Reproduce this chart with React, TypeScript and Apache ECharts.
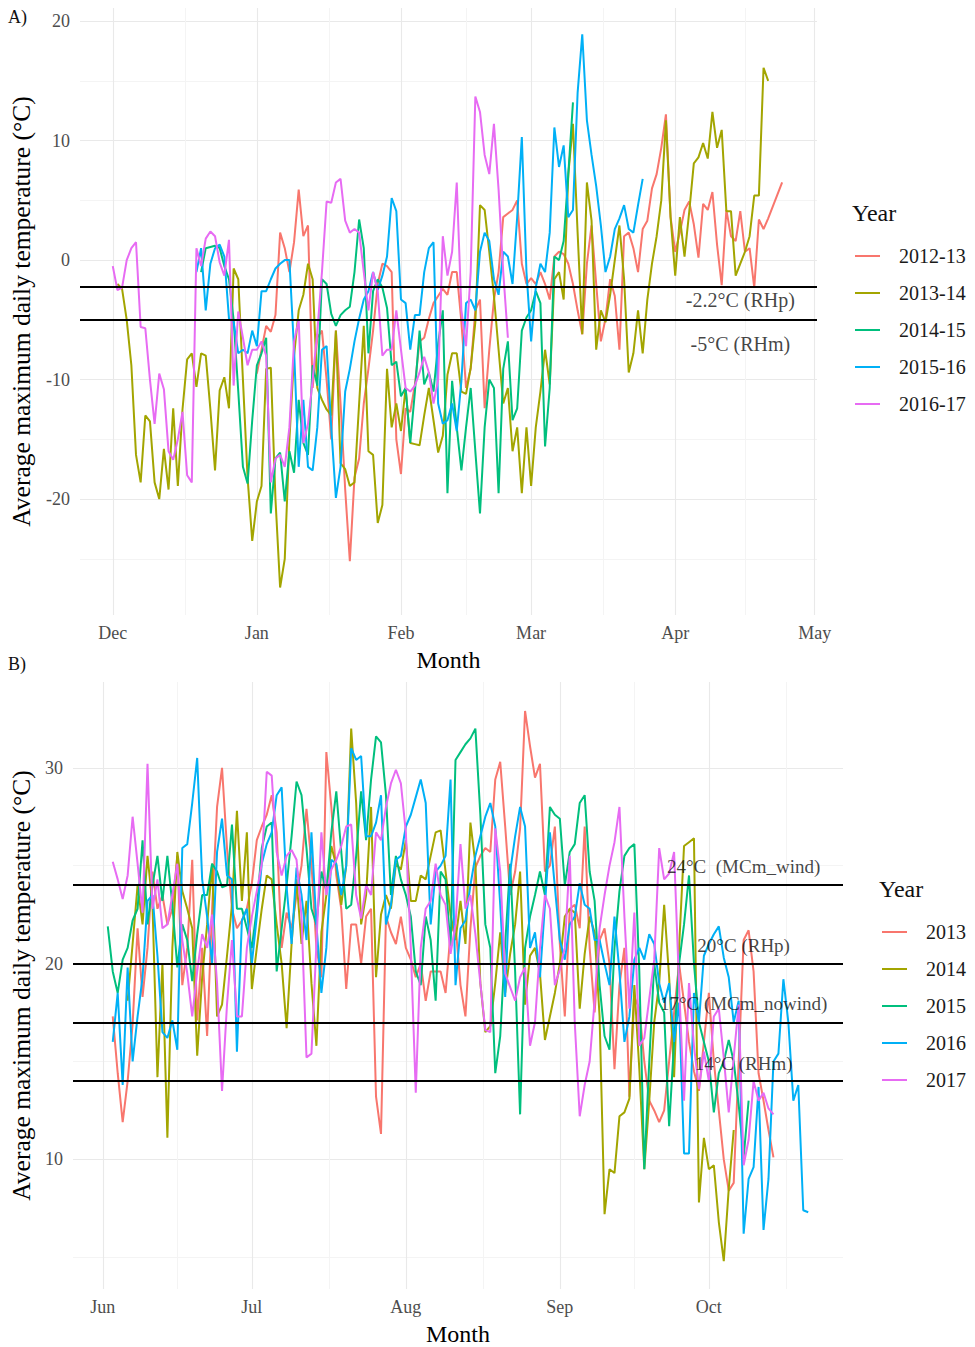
import React, { useEffect, useRef } from "react";
import * as echarts from "echarts";

// ---------- Panel A (winter, days counted from 1 December) ----------
const namesA = ["2012-13", "2013-14", "2014-15", "2015-16", "2016-17"];
const monthTicksA = [0, 31, 62, 90, 121, 151];
const monthLabelsA = ["Dec", "Jan", "Feb", "Mar", "Apr", "May"];
const minorXA = [15.5, 46.5, 76, 105.5, 136];
const yTicksA = [-20, -10, 0, 10, 20];
const minorYA = [-25, -15, -5, 5, 15];
const thresholdsA = [-2.2, -5];
const thresholdTextA = ["-2.2°C (RHp)", "-5°C (RHm)"];

const start2012_13 = 31;
const t2012_13 = [
  -9.5, -7.5, -5.5, -6.0, -4.6, 2.3, 1.0, -1.0, 1.5, 5.9,
  2.0, 2.9, -10.7, -6.5, -5.9, -10.0, -15.0, -5.9, -12.0, -19.2,
  -25.2, -18.2, -16.6, -12.0, -9.1, -5.9, -2.0, -0.3, -0.5, -1.0,
  -15.0, -17.9, -12.4, -12.7, -10.4, -6.8, -6.5, -4.9, -3.6, -3.0,
  -2.4, -2.9, -1.0, -1.0, -5.2, -10.7, -9.1, -4.2, -3.3, -12.4,
  -7.5, -3.3, -1.0, 3.6, 3.9, 4.2, 5.0, -0.3, -2.0, -1.5,
  -2.0, -1.0, -2.0, -3.3, 0.3, 0.7, 0.5, -0.3, -2.0, -4.2,
  -6.2, -0.3, 2.9, -2.0, -6.8, -4.9, -1.6, -3.0, -7.5, 2.0,
  2.3, 1.0, -1.0, 2.6, 3.3, 6.0, 7.2, 9.4, 12.2, 3.6,
  0.7, 2.3, 4.2, 4.9, 3.0, 0.2, 4.7, 4.2, 5.7, 1.3,
  -2.1, 4.2, 2.0, 1.6, 4.1, 0.7, 1.0, -2.3, 3.4, 2.6,
  3.5, 4.5, 5.5, 6.5,
];

const start2013_14 = 1;
const t2013_14 = [
  -2.0, -2.4, -5.0, -8.8, -16.3, -18.6, -13.0, -13.5, -18.6, -20.0,
  -15.8, -19.2, -12.4, -18.9, -12.5, -8.3, -7.8, -10.6, -7.8, -8.0,
  -12.5, -17.6, -10.9, -9.8, -12.4, -0.7, -1.6, -10.0, -18.2, -23.5,
  -20.2, -18.9, -9.1, -9.0, -20.0, -27.4, -25.0, -15.0, -8.0, -4.2,
  -2.9, -0.3, -1.6, -10.7, -11.7, -12.5, -13.0, -5.9, -17.0, -17.5,
  -18.9, -18.6, -12.0, -5.5, -16.0, -16.3, -22.0, -20.5, -9.1, -14.0,
  -12.0, -14.3, -10.7, -15.3, -15.4, -15.5, -13.0, -10.7, -13.4, -16.1,
  -14.7, -9.6, -7.8, -7.8, -11.0, -11.2, -9.0, -5.2, 4.6, 4.2,
  0.7, -3.0, -7.5, -12.0, -10.7, -16.0, -14.0, -19.5, -14.0, -18.9,
  -14.0, -11.0, -7.5, -10.4, -1.6, -1.0, -3.3, 7.2, 11.4, 2.3,
  -6.2, 6.5, 3.3, -7.5, -4.2, -5.2, -2.9, 0.0, 2.9, -1.6,
  -9.4, -7.8, -4.2, -7.8, -3.3, -0.3, 2.0, 5.0, 11.7, 3.6,
  -1.3, 3.6, 0.3, 4.0, 8.1, 8.6, 9.8, 8.5, 12.4, 9.4,
  10.9, 4.1, 4.1, -1.3, -0.3, 0.7, 2.0, 5.4, 5.4, 16.1,
  15.0,
];

const start2014_15 = 19;
const t2014_15 = [
  -1.0, 1.0, 1.1, 1.2, 1.0, -0.5, -1.6, -5.0, -11.0, -17.3,
  -18.7, -13.4, -8.8, -7.8, -6.5, -21.2, -16.6, -16.1, -20.2, -16.0,
  -17.8, -11.7, -15.3, -16.3, -8.8, -10.5, -1.6, -2.0, -4.5, -5.5,
  -4.6, -4.2, -3.9, -1.0, 3.4, 1.0, -7.8, -2.6, -1.6, -2.3,
  -4.0, -8.8, -8.5, -11.4, -10.7, -15.3, -11.0, -5.9, -10.4, -9.4,
  -11.0, -7.0, -4.2, -19.5, -10.1, -14.0, -17.6, -14.0, -10.7, -16.0,
  -21.2, -14.0, -10.0, -10.7, -19.5, -9.1, -6.8, -13.4, -12.4, -5.9,
  -4.8, -4.2, -2.6, -3.6, -15.6, -10.7, 0.3, 0.0, 1.6, 7.2,
  13.2,
];

const start2015_16 = 18;
const t2015_16 = [
  -1.0, 1.0, -4.2, -0.3, 1.0, 1.3, 0.3, -4.9, -5.2, -7.8,
  -7.5, -7.8, -5.9, -7.2, -2.6, -2.6, -1.6, -0.7, -0.3, 0.0,
  0.0, -7.5, -17.3, -11.7, -17.3, -17.6, -14.0, -7.5, -7.2, -14.0,
  -19.9, -17.3, -11.0, -9.1, -6.8, -4.9, -3.3, -2.6, -1.0, -2.5,
  -1.3, 0.3, 5.2, 4.1, -3.3, -3.6, -7.5, -4.6, -4.6, -1.0,
  1.0, 1.5, -12.0, -13.7, -13.4, -12.0, -14.3, -10.1, -3.6, -3.3,
  -4.2, 0.7, 2.3, 1.6, -1.6, -2.9, 0.7, 0.3, -2.0, 3.6,
  10.3, -1.0, -6.8, -2.3, -0.3, -1.0, 2.3, 11.1, 7.8, 9.6,
  3.6, 4.2, 14.0, 18.9, 11.7, 8.8, 6.2, 2.9, -1.0, 0.3,
  2.6, 3.5, 4.6, 2.6, 2.3, 4.6, 6.8,
];

const start2016_17 = 0;
const t2016_17 = [
  -0.5, -2.5, -2.3, 0.0, 1.0, 1.5, -5.6, -5.7, -10.0, -13.7,
  -9.5, -10.8, -16.0, -16.7, -15.0, -12.7, -18.0, -18.6, 1.0, -0.5,
  1.8, 2.4, 2.0, -0.2, -1.3, 1.7, -10.5, -4.3, -6.5, -8.8,
  -7.5, -7.5, -6.8, -8.0, -18.6, -16.6, -16.3, -17.3, -14.0, -6.8,
  -5.0, -15.3, -13.7, -10.0, -6.0, -1.0, 4.9, 4.8, 6.5, 6.8,
  3.3, 2.3, 2.6, 2.3, -1.0, -4.2, -1.0, -2.6, -8.0, -7.5,
  -7.5, -4.2, -7.5, -10.7, -11.0, -10.5, -9.4, -8.1, -9.4, -12.0,
  -10.0, 2.0, -1.3, 0.7, 6.5, -4.2, -7.2, -1.0, 13.7, 12.4,
  8.8, 7.2, 11.4, 5.9, -1.0, -6.5,
];

// ---------- Panel B (summer, days counted from 1 June) ----------
const namesB = ["2013", "2014", "2015", "2016", "2017"];
const monthTicksB = [0, 30, 61, 92, 122];
const monthLabelsB = ["Jun", "Jul", "Aug", "Sep", "Oct"];
const minorXB = [15, 45.5, 76.5, 107, 137.5];
const yTicksB = [10, 20, 30];
const minorYB = [5, 15, 25];
const thresholdsB = [24, 20, 17, 14];
const thresholdTextB = ["24°C  (MCm_wind)", "20°C (RHp)", "17°C (MCm_nowind)", "14°C (RHm)"];

const start2013 = 2;
const t2013 = [
  17.3, 14.4, 11.9, 14.0, 16.9, 21.8, 18.3, 20.8, 24.7, 22.8,
  23.5, 22.0, 22.8, 25.5, 18.9, 20.8, 25.3, 17.1, 20.8, 16.3,
  22.8, 28.0, 30.0, 25.9, 22.8, 21.8, 22.2, 22.8, 24.1, 26.3,
  27.0, 27.6, 28.6, 26.7, 20.8, 22.6, 21.8, 23.5, 25.0, 27.9,
  25.1, 20.8, 19.3, 30.8, 28.0, 24.5, 22.8, 18.7, 22.0, 22.0,
  20.0, 22.4, 22.8, 13.2, 11.3, 22.4, 21.6, 21.0, 22.4, 20.8,
  20.2, 19.3, 20.0, 18.1, 19.6, 19.6, 19.6, 18.5, 21.6, 22.0,
  18.9, 17.3, 21.8, 24.9, 25.5, 25.9, 25.7, 29.4, 30.3, 27.0,
  23.5, 24.7, 26.9, 32.9, 31.1, 29.5, 30.2, 24.7, 25.0, 27.0,
  21.0, 17.3, 22.8, 23.0, 21.8, 27.0, 20.8, 17.5, 21.2, 21.8,
  20.0, 14.6, 18.9, 20.8, 13.2, 18.3, 17.7, 15.0, 13.0, 12.5,
  11.9, 12.5, 15.0, 17.5, 20.0, 18.0, 16.0, 14.5, 13.5, 16.0,
  18.5, 15.0, 12.5, 10.0, 8.4, 8.8, 15.0, 21.2, 21.7, 19.6,
  14.4, 13.0, 11.5, 10.1,
];

const start2014 = 5;
const t2014 = [
  18.1, 21.0, 24.0, 22.0, 25.5, 23.0, 14.2, 20.0, 11.1, 20.8,
  25.7, 23.7, 22.8, 21.8, 15.3, 19.3, 22.0, 25.1, 17.3, 17.9,
  20.4, 23.0, 27.8, 23.2, 26.7, 18.7, 20.8, 22.8, 24.5, 24.3,
  22.0, 20.0, 16.7, 21.0, 24.3, 21.0, 23.2, 19.0, 15.8, 21.6,
  23.5, 26.0, 25.0, 23.0, 25.0, 32.0, 28.2, 22.0, 23.5, 28.0,
  19.3, 22.5, 23.5, 22.8, 25.1, 24.8, 26.3, 23.2, 23.2, 24.5,
  24.3, 25.5, 26.7, 26.8, 24.7, 22.5, 21.2, 23.2, 21.0, 27.2,
  25.1, 19.0, 16.5, 16.8, 19.0, 21.6, 18.5, 20.5, 22.0, 24.7,
  17.9, 20.4, 20.8, 19.5, 16.1, 17.3, 18.5, 20.0, 22.4, 22.8,
  22.6, 17.7, 20.5, 22.4, 21.6, 17.3, 7.2, 9.5, 9.3, 12.2,
  12.4, 13.1, 18.9, 14.6, 9.5, 13.0, 17.0, 19.0, 23.0, 19.3,
  14.2, 20.8, 26.0, 26.2, 26.4, 7.8, 11.1, 9.5, 9.7, 6.8,
  4.8, 8.5, 11.5,
];

const start2015 = 1;
const t2015 = [
  21.9, 19.6, 18.5, 20.2, 20.8, 22.2, 22.8, 26.3, 22.0, 24.0,
  25.5, 23.2, 25.5, 23.0, 19.8, 22.0, 21.2, 19.1, 21.5, 23.5,
  23.5, 25.1, 24.7, 23.9, 24.0, 27.1, 22.8, 22.8, 21.8, 20.8,
  22.8, 25.9, 27.0, 27.2, 19.6, 21.8, 24.0, 26.5, 29.3, 28.6,
  25.9, 22.8, 22.0, 24.7, 23.7, 26.7, 28.8, 25.7, 22.8, 23.0,
  25.5, 28.8, 26.3, 29.4, 31.6, 31.3, 28.6, 23.5, 25.5, 24.3,
  23.5, 22.4, 19.6, 18.9, 22.4, 21.2, 18.1, 24.7, 24.3, 20.8,
  30.4, 30.8, 31.2, 31.5, 32.0, 27.6, 22.0, 20.8, 14.4, 16.3,
  21.0, 25.1, 19.6, 12.3, 20.8, 22.4, 23.5, 24.7, 23.5, 28.0,
  27.6, 27.4, 24.0, 25.7, 26.1, 28.2, 28.6, 24.7, 23.2, 18.9,
  16.3, 15.6, 20.8, 23.7, 25.5, 25.9, 26.1, 19.6, 9.5, 15.0,
  20.0, 18.0, 17.5, 11.7, 16.0, 20.0, 22.0, 24.5, 20.0, 17.0,
  16.0, 15.0, 12.4, 14.4, 15.0, 16.1, 15.0, 12.8, 10.1, 13.0,
];

const start2016 = 2;
const t2016 = [
  16.0, 18.5, 13.8, 19.8, 15.0, 17.3, 19.3, 23.2, 23.5, 20.4,
  16.5, 16.2, 17.1, 15.6, 25.9, 26.1, 28.2, 30.5, 24.3, 22.4,
  20.0, 25.7, 27.4, 24.5, 24.3, 15.5, 22.2, 22.8, 20.0, 22.4,
  25.1, 26.1, 26.7, 28.6, 29.0, 23.9, 21.0, 24.9, 23.5, 21.2,
  26.7, 22.0, 18.5, 20.8, 25.3, 25.1, 23.5, 25.0, 31.0, 30.4,
  30.6, 26.5, 26.5, 27.2, 28.6, 22.0, 23.0, 25.3, 25.5, 27.0,
  27.6, 28.5, 29.4, 28.2, 22.0, 24.7, 25.0, 25.5, 29.4, 18.9,
  21.8, 22.2, 24.0, 25.5, 26.5, 27.5, 28.2, 27.0, 23.0, 18.3,
  24.7, 26.5, 28.0, 27.0, 20.8, 21.6, 19.3, 23.0, 26.7, 23.9,
  21.2, 20.2, 22.0, 22.4, 24.1, 23.0, 22.8, 21.2, 21.2, 20.0,
  18.9, 22.4, 19.6, 16.0, 17.3, 20.2, 20.8, 20.2, 21.5, 21.0,
  19.0, 18.0, 19.0, 16.0, 18.0, 10.3, 10.3, 18.5, 17.0, 20.4,
  21.0, 21.5, 21.9, 20.3, 19.3, 17.0, 18.1, 6.2, 9.0, 9.6,
  13.7, 6.4, 9.0, 15.0, 15.4, 19.2, 17.0, 13.0, 13.8, 7.4,
  7.3,
];

const start2017 = 2;
const t2017 = [
  25.2, 24.3, 23.3, 24.5, 27.5, 25.1, 22.6, 30.2, 22.8, 24.3,
  21.8, 22.0, 23.5, 25.1, 21.2, 19.5, 17.3, 19.6, 21.5, 20.8,
  22.5, 19.0, 13.5, 17.9, 21.2, 17.3, 17.3, 20.8, 22.4, 23.7,
  25.1, 29.8, 29.6, 25.7, 24.5, 25.5, 25.8, 25.3, 22.4, 15.2,
  15.4, 21.0, 26.7, 23.5, 24.8, 25.3, 26.0, 27.0, 27.1, 23.5,
  22.3, 24.0, 23.5, 26.7, 26.3, 28.0, 29.2, 29.9, 29.2, 26.7,
  20.8, 13.4, 20.8, 22.8, 23.2, 25.1, 23.5, 23.0, 20.5, 22.0,
  26.1, 22.8, 23.5, 21.5, 19.0, 16.6, 16.5, 26.9, 24.7, 19.5,
  18.8, 18.1, 19.3, 19.8, 15.8, 17.0, 20.8, 23.5, 22.8, 18.9,
  19.7, 20.8, 25.5, 17.0, 12.2, 13.8, 15.0, 18.1, 21.8, 23.5,
  25.0, 26.2, 28.0, 22.4, 17.7, 22.6, 15.8, 16.2, 18.2, 20.2,
  25.9, 24.3, 24.6, 25.7, 18.9, 13.0, 19.0, 15.8, 13.6, 15.5,
  14.0, 17.3, 17.7, 15.2, 12.4, 15.2, 17.9, 9.7, 11.0, 14.0,
  13.0, 13.4, 12.6, 12.3,
];

const COLORS = ["#F8766D", "#A3A500", "#00BF7D", "#00B0F6", "#E76BF3"];
const SERIF = '"Liberation Serif", "Times New Roman", "DejaVu Serif", serif';
const MAJOR = "#e9e9e9";
const MINOR = "#f4f4f4";

const seriesA = [
  [start2012_13, t2012_13],
  [start2013_14, t2013_14],
  [start2014_15, t2014_15],
  [start2015_16, t2015_16],
  [start2016_17, t2016_17],
] as [number, number[]][];
const seriesB = [
  [start2013, t2013],
  [start2014, t2014],
  [start2015, t2015],
  [start2016, t2016],
  [start2017, t2017],
] as [number, number[]][];

function labelFor(ticks: number[], labels: string[]) {
  return (v: number) => {
    for (let i = 0; i < ticks.length; i++) if (Math.abs(ticks[i] - v) < 1e-6) return labels[i];
    return "";
  };
}

function majorX(gridIndex: number, min: number, max: number, ticks: number[], labels: string[]) {
  return {
    type: "value",
    gridIndex,
    min,
    max,
    axisLine: { show: false },
    axisTick: { show: false, customValues: ticks },
    axisLabel: {
      customValues: ticks,
      formatter: labelFor(ticks, labels),
      color: "#4d4d4d",
      fontSize: 18,
      fontFamily: SERIF,
      margin: 9,
    },
    splitLine: { show: true, lineStyle: { color: MAJOR, width: 1.1 } },
    name: "Month",
    nameLocation: "middle",
    nameGap: 33,
    nameTextStyle: { fontSize: 24, fontFamily: SERIF, color: "#000" },
  };
}
function minorX(gridIndex: number, min: number, max: number, ticks: number[]) {
  return {
    type: "value",
    gridIndex,
    min,
    max,
    axisLine: { show: false },
    axisTick: { show: false, customValues: ticks },
    axisLabel: { show: false, customValues: ticks },
    splitLine: { show: true, lineStyle: { color: MINOR, width: 1 } },
  };
}
function majorY(gridIndex: number, min: number, max: number, ticks: number[], gap: number) {
  return {
    type: "value",
    gridIndex,
    min,
    max,
    axisLine: { show: false },
    axisTick: { show: false, customValues: ticks },
    axisLabel: {
      customValues: ticks,
      formatter: (v: number) => String(Math.round(v)),
      color: "#4d4d4d",
      fontSize: 18,
      fontFamily: SERIF,
      margin: 10,
    },
    splitLine: { show: true, lineStyle: { color: MAJOR, width: 1.1 } },
    name: "Average maximum daily temperature (°C)",
    nameLocation: "middle",
    nameGap: gap,
    nameTextStyle: { fontSize: 25.5, fontFamily: SERIF, color: "#000" },
  };
}
function minorY(gridIndex: number, min: number, max: number, ticks: number[]) {
  return {
    type: "value",
    gridIndex,
    min,
    max,
    axisLine: { show: false },
    axisTick: { show: false, customValues: ticks },
    axisLabel: { show: false, customValues: ticks },
    splitLine: { show: true, lineStyle: { color: MINOR, width: 1 } },
  };
}

function buildLines(names: string[], data: [number, number[]][], xi: number, yi: number) {
  return names.map((name, k) => ({
    type: "line",
    name,
    xAxisIndex: xi,
    yAxisIndex: yi,
    data: data[k][1].map((v, i) => [data[k][0] + i, v]),
    symbol: "none",
    showSymbol: false,
    silent: true,
    animation: false,
    lineStyle: { color: COLORS[k], width: 2 },
    itemStyle: { color: COLORS[k] },
    emphasis: { disabled: true },
    z: 2,
  }));
}

function hLines(name: string, values: number[], xi: number, yi: number) {
  return {
    type: "line",
    name,
    xAxisIndex: xi,
    yAxisIndex: yi,
    data: [],
    symbol: "none",
    silent: true,
    z: 4,
    markLine: {
      silent: true,
      symbol: ["none", "none"],
      animation: false,
      label: { show: false },
      lineStyle: { color: "#000", type: "solid", width: 1.8 },
      emphasis: { disabled: true },
      data: values.map((v) => ({ yAxis: v })),
    },
  };
}

function textLabels(name: string, texts: string[], xs: number[], ys: number[], xi: number, yi: number, size: number) {
  return {
    type: "scatter",
    name,
    xAxisIndex: xi,
    yAxisIndex: yi,
    symbolSize: 0,
    silent: true,
    z: 5,
    data: texts.map((t, i) => ({ name: t, value: [xs[i], ys[i]] })),
    label: {
      show: true,
      position: "inside",
      formatter: "{b}",
      fontSize: size,
      fontFamily: SERIF,
      color: "#111",
    },
  };
}

export default function App() {
  const ref = useRef<HTMLDivElement>(null);
  useEffect(() => {
    document.body.style.margin = "0";
    if (!ref.current) return;
    const chart = echarts.init(ref.current, null, { renderer: "svg" });
    const minXA = -7.05, maxXA = 151.5, minYA = -29.7, maxYA = 21.1;
    const minXB = -6, maxXB = 149, minYB = 3.38, maxYB = 34.38;
    const legendText = { fontFamily: SERIF, fontSize: 20, color: "#1a1a1a", lineHeight: 20, padding: [0, 0, 0, 14] };
    const option = {
      animation: false,
      backgroundColor: "#ffffff",
      textStyle: { fontFamily: SERIF },
      grid: [
        { left: 75, top: 8, width: 742, height: 607, containLabel: false },
        { left: 68, top: 682, width: 775, height: 609, containLabel: false },
      ],
      xAxis: [
        majorX(0, minXA, maxXA, monthTicksA, monthLabelsA),
        minorX(0, minXA, maxXA, minorXA),
        majorX(1, minXB, maxXB, monthTicksB, monthLabelsB),
        minorX(1, minXB, maxXB, minorXB),
      ],
      yAxis: [
        majorY(0, minYA, maxYA, yTicksA, 46),
        minorY(0, minYA, maxYA, minorYA),
        majorY(1, minYB, maxYB, yTicksB, 39),
        minorY(1, minYB, maxYB, minorYB),
      ],
      legend: [
        {
          data: namesA,
          orient: "vertical",
          left: 850,
          top: 241,
          icon: "rect",
          itemWidth: 25,
          itemHeight: 2,
          itemGap: 17,
          selectedMode: false,
          textStyle: legendText,
        },
        {
          data: namesB,
          orient: "vertical",
          left: 877,
          top: 917,
          icon: "rect",
          itemWidth: 25,
          itemHeight: 2,
          itemGap: 17,
          selectedMode: false,
          textStyle: legendText,
        },
      ],
      graphic: [
        { type: "text", left: 8, top: 8, style: { text: "A)", font: `18px ${SERIF}`, fill: "#111" } },
        { type: "text", left: 8, top: 655, style: { text: "B)", font: `18px ${SERIF}`, fill: "#111" } },
        { type: "text", left: 852, top: 201, style: { text: "Year", font: `24px ${SERIF}`, fill: "#111" } },
        { type: "text", left: 879, top: 877, style: { text: "Year", font: `24px ${SERIF}`, fill: "#111" } },
      ],
      series: [
        ...buildLines(namesA, seriesA, 0, 0),
        hLines("thrA", thresholdsA, 0, 0),
        textLabels("lblA", thresholdTextA, [135, 135], [-3.35, -7.03], 0, 0, 20),
        ...buildLines(namesB, seriesB, 2, 2),
        hLines("thrB", thresholdsB, 2, 2),
        textLabels("lblB", thresholdTextB, [129, 129, 129, 129], [24.94, 20.92, 17.94, 14.91], 2, 2, 19),
      ],
    };
    chart.setOption(option as any);
    return () => chart.dispose();
  }, []);
  return <div ref={ref} style={{ width: 975, height: 1347 }} />;
}
